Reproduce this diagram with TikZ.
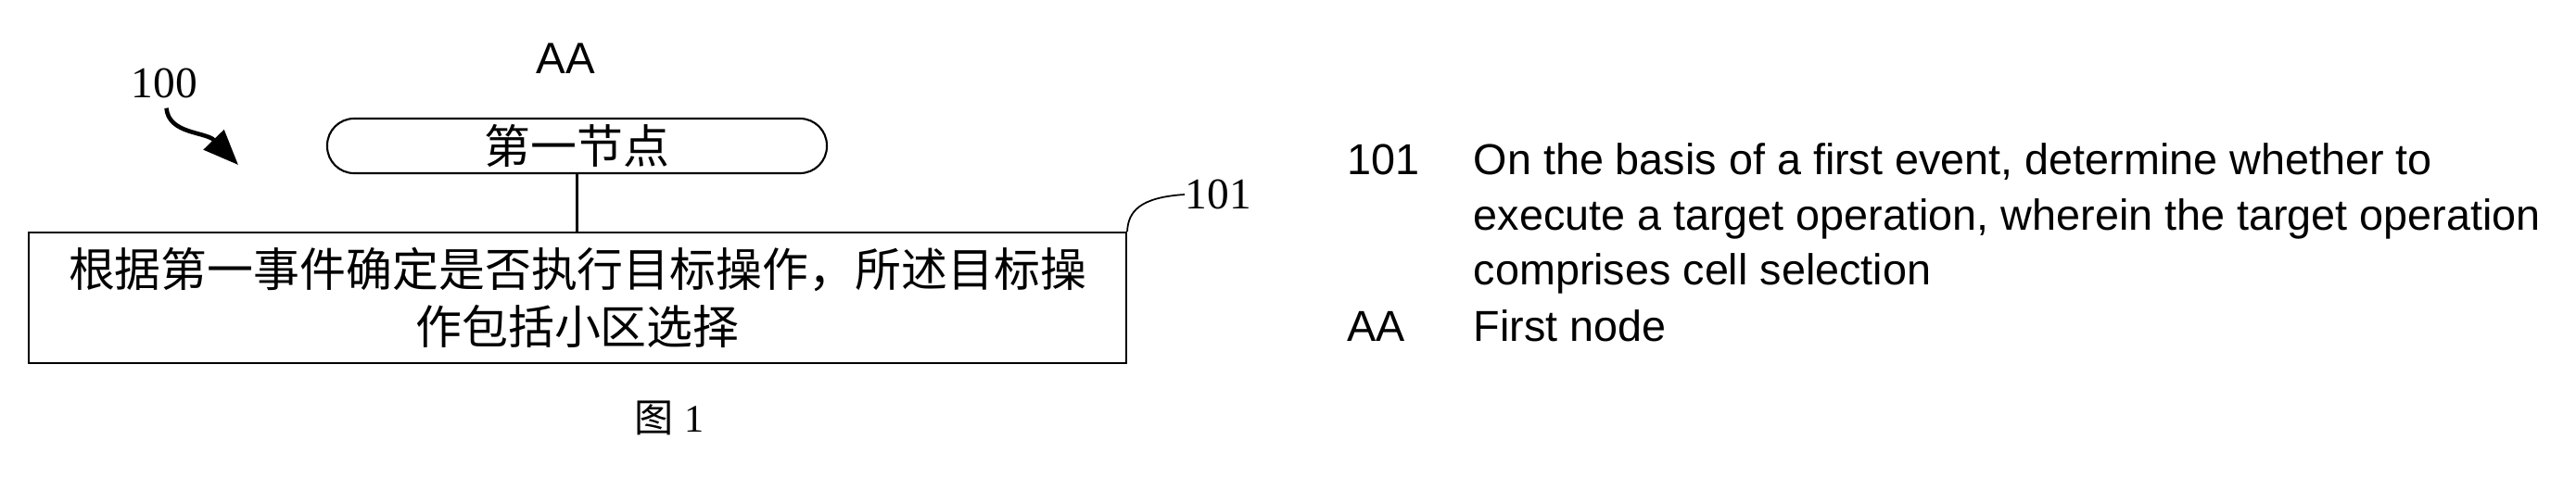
\documentclass[tikz,border=0pt]{standalone}
\usepackage{fontspec}
\setmainfont{Liberation Serif}
\newfontfamily\cjk{Noto Sans CJK SC}
\newfontfamily\arial{Liberation Sans}
\usepackage{tikz}
\usetikzlibrary{arrows.meta,positioning}

\begin{document}
\begin{tikzpicture}[
    nodebox/.style={draw, line width=0.6pt, rounded corners=0.29cm, minimum width=5.39cm, minimum height=0.59cm, inner sep=0pt, font=\cjk\fontsize{14.2}{17.6}\selectfont},
    opbox/.style={draw, line width=0.6pt, minimum width=11.84cm, minimum height=1.41cm, align=center, inner sep=0pt, font=\cjk\fontsize{14.2}{17.6}\selectfont},
    refnum/.style={inner sep=0pt, font=\fontsize{13.5}{16}\selectfont},
    sans/.style={inner sep=0pt, anchor=base west, font=\arial\fontsize{13.3}{17}\selectfont},
    arr/.style={-{Triangle[length=0.38cm,width=0.3cm]}, line width=1.3pt}
  ]
  \useasboundingbox (0,0) rectangle (27.79,-5.28);

  \node[nodebox] (first) at (6.225,-1.575) {第一节点};
  \node[opbox] (op) at (6.23,-3.215) {根据第一事件确定是否执行目标操作，所述目标操\\作包括小区选择};
  \node[inner sep=0pt, font=\arial\fontsize{13.5}{16}\selectfont] (aa) at (6.10,-0.63) {AA};
  \node[refnum] (ref100) at (1.775,-0.90) {100};
  \node[refnum, anchor=west] (ref101) at (12.78,-2.10) {101};
  \node[inner sep=0pt, font=\fontsize{12}{14}\selectfont] (fig) at (7.22,-4.51) {{\cjk 图}\hspace{0.12cm}1};
  \coordinate (tip100) at (2.57,-1.78);

  \draw[line width=0.6pt] (first.south) -- (first.south |- op.north);
  \draw[line width=0.5pt] (op.north east) .. controls (12.17,-2.28) and (12.30,-2.13) .. (ref101.west);
  \draw[arr] ([xshift=0.02cm,yshift=-0.1cm]ref100.south) .. controls (1.82,-1.45) and (2.22,-1.42) .. (tip100);

  \node[sans] (k101) at (14.53,-1.88) {101};
  \node[sans] (t101a) at (15.89,-1.88) {On the basis of a first event, determine whether to};
  \node[sans] (t101b) at (15.89,-2.48) {execute a target operation, wherein the target operation};
  \node[sans] (t101c) at (15.89,-3.07) {comprises cell selection};
  \node[sans] (kaa) at (14.53,-3.68) {AA};
  \node[sans] (taa) at (15.89,-3.68) {First node};
\end{tikzpicture}
\end{document}
